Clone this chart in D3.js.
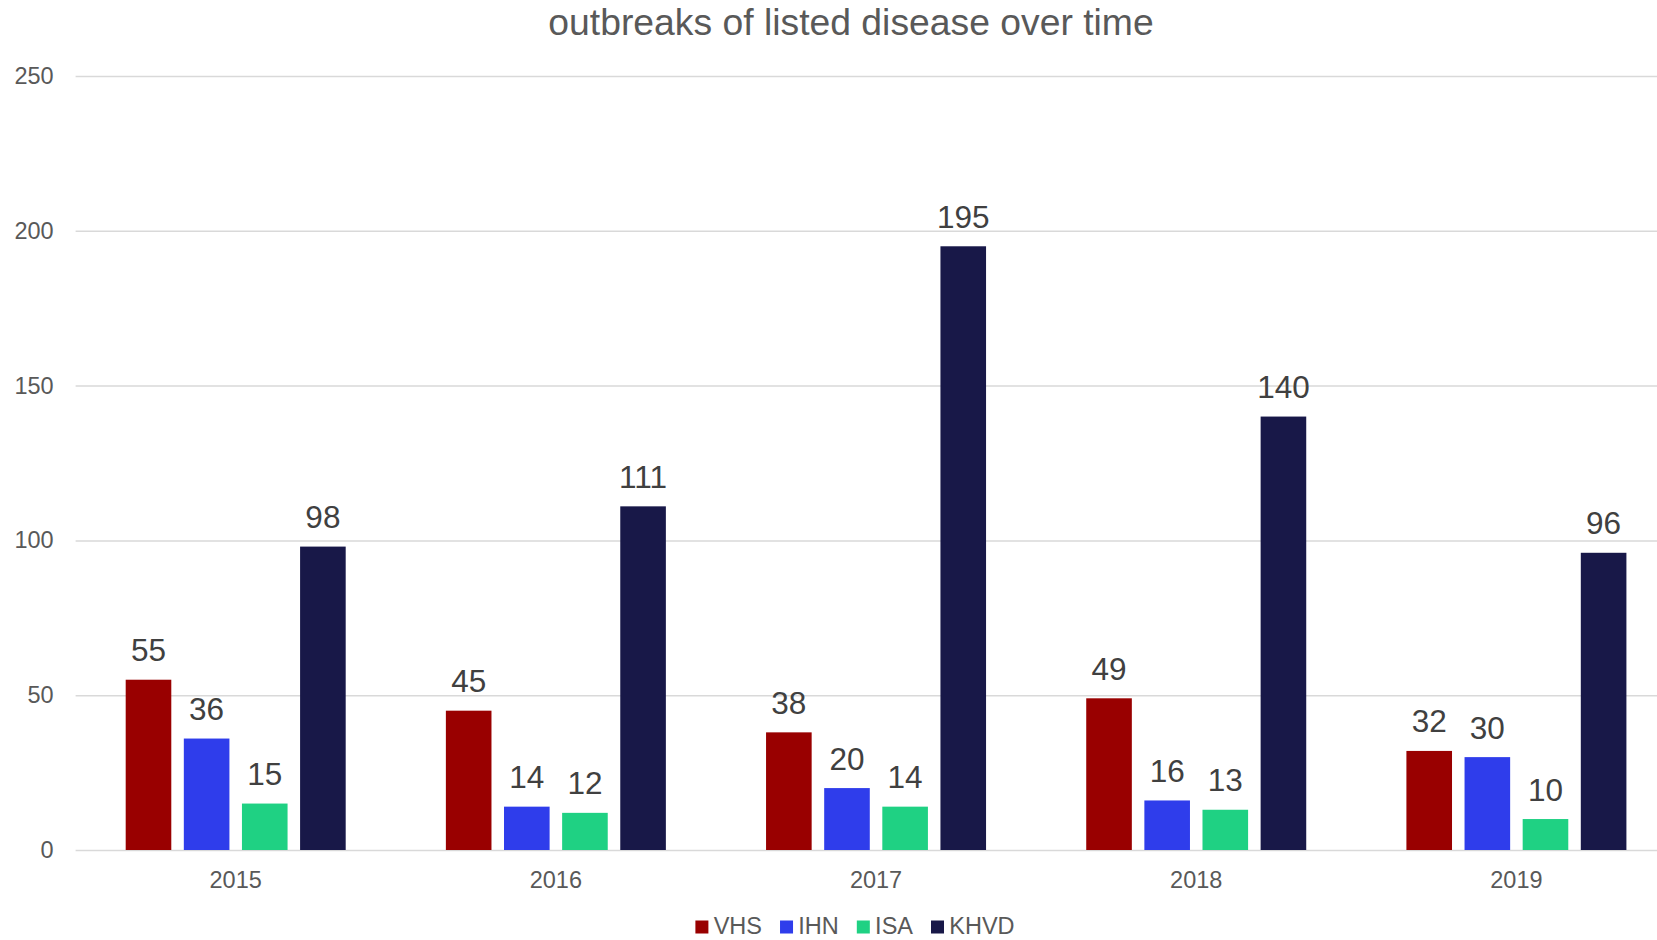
<!DOCTYPE html>
<html>
<head>
<meta charset="utf-8">
<script src="https://cdn.jsdelivr.net/npm/d3@7"></script>
<style>
    body { margin: 0; background: #fff; overflow: hidden; }
    svg { display: block; font-family: "Liberation Sans", Arial, sans-serif; }
</style>
</head>
<body>
<svg id="chart" width="1657" height="940"></svg>
<script>
const years = ['2015', '2016', '2017', '2018', '2019'];
const seriesNames = ['VHS', 'IHN', 'ISA', 'KHVD'];
const vhs = [55, 45, 38, 49, 32];
const ihn = [36, 14, 20, 16, 30];
const isa = [15, 12, 14, 13, 10];
const khvd = [98, 111, 195, 140, 96];
const yTicks = [0, 50, 100, 150, 200, 250];

const seriesValues = { VHS: vhs, IHN: ihn, ISA: isa, KHVD: khvd };
const colors = { VHS: '#990000', IHN: '#2f3deb', ISA: '#1fd183', KHVD: '#181848' };

const svg = d3.select('#chart');
const plot = { left: 75.6, right: 1676.5, top: 76, bottom: 850 };

const x0 = d3.scaleBand().domain(years).range([plot.left, plot.right]);
const groupW = 220;
const x1 = d3.scaleBand().domain(seriesNames).range([0, groupW]).paddingInner(0.2155);
const groupOffset = (x0.bandwidth() - groupW) / 2;
const y = d3.scaleLinear().domain([0, 250]).range([plot.bottom, plot.top]);

// title
svg.append('text')
    .attr('x', 851)
    .attr('y', 35)
    .attr('text-anchor', 'middle')
    .attr('fill', '#595959')
    .style('font-size', '37.3px')
    .text('outbreaks of listed disease over time');

// y axis with gridlines
const yAxis = svg.append('g')
    .attr('transform', `translate(${plot.left},0)`)
    .call(d3.axisLeft(y).tickValues(yTicks).tickSize(-(plot.right - plot.left)).tickPadding(22));
yAxis.select('.domain').remove();
yAxis.selectAll('line').attr('stroke', '#d9d9d9').attr('stroke-width', 1.5);
yAxis.selectAll('text').attr('fill', '#595959').style('font-size', '23.5px');

// x axis labels
const xAxis = svg.append('g')
    .attr('transform', `translate(0,${plot.bottom})`)
    .call(d3.axisBottom(x0).tickSize(0).tickPadding(21));
xAxis.select('.domain').remove();
xAxis.selectAll('text').attr('fill', '#595959').style('font-size', '23.5px');

// bars
const rows = [];
years.forEach((yr, i) => {
    seriesNames.forEach((s) => rows.push({ year: yr, series: s, value: seriesValues[s][i] }));
});

const barX = (d) => x0(d.year) + groupOffset + x1(d.series);

svg.append('g').selectAll('rect')
    .data(rows)
    .enter()
    .append('rect')
    .attr('x', barX)
    .attr('y', (d) => y(d.value))
    .attr('width', x1.bandwidth())
    .attr('height', (d) => y(0) - y(d.value))
    .attr('fill', (d) => colors[d.series]);

svg.append('g').selectAll('text')
    .data(rows)
    .enter()
    .append('text')
    .attr('x', (d) => barX(d) + x1.bandwidth() / 2)
    .attr('y', (d) => y(d.value) - 18.5)
    .attr('text-anchor', 'middle')
    .attr('fill', '#404040')
    .style('font-size', '31.5px')
    .text((d) => d.value);

// legend (nudged up a little so the text stays inside the page)
const legend = svg.append('g');
let cursor = 0;
seriesNames.forEach((s) => {
    const item = legend.append('g').attr('transform', `translate(${cursor},0)`);
    item.append('rect')
        .attr('x', 0)
        .attr('y', 920.5)
        .attr('width', 13)
        .attr('height', 13)
        .attr('fill', colors[s]);
    const t = item.append('text')
        .attr('x', 18.3)
        .attr('y', 934)
        .attr('fill', '#595959')
        .style('font-size', '23.5px')
        .text(s);
    cursor += 18.3 + t.node().getComputedTextLength() + 18;
});
const legendW = cursor - 18;
legend.attr('transform', `translate(${855 - legendW / 2},0)`);
</script>
</body>
</html>
